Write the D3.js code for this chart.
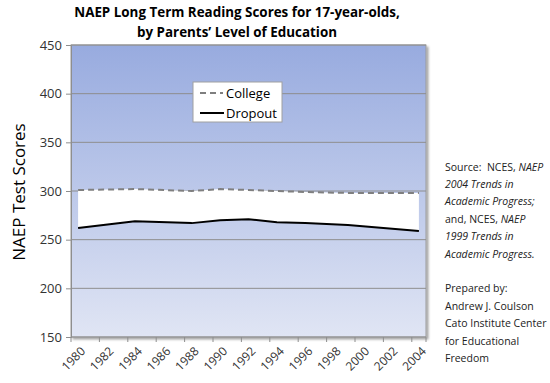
<!DOCTYPE html>
<html><head><meta charset="utf-8">
<script src="https://cdn.jsdelivr.net/npm/d3@7"></script>
<style>body{margin:0;background:#fff}svg{display:block}text{font-family:"Open Sans","Noto Sans",sans-serif;white-space:pre}</style>
</head><body><svg id="c" width="550" height="383"></svg>
<script>
const categories = d3.range(1980, 2005);
const tickYears = [1980,1982,1984,1986,1988,1990,1992,1994,1996,1998,2000,2002,2004];
const dataYears = [1980,1984,1988,1990,1992,1994,1996,1999,2004];
const college = [301,302,300,302,301,300,299,298,298];
const dropout = [262,269,267,270,271,268,267,265,259];
const yTicks = [150,200,250,300,350,400,450];
const seriesNames = ["College","Dropout"];
const titleLines = ["NAEP Long Term Reading Scores for 17-year-olds,","by Parents\u2019 Level of Education"];

const svg = d3.select("#c");
const L=71,R=426,T=45,B=337;
const x = d3.scaleBand().domain(categories).range([L,R]);
const y = d3.scaleLinear().domain([150,450]).range([B,T]);
const cx = yr => x(yr)+x.bandwidth()/2;

const defs = svg.append("defs");
const g = defs.append("linearGradient").attr("id","bg").attr("x1",0).attr("y1",0).attr("x2",0).attr("y2",1);
g.append("stop").attr("offset","0%").attr("stop-color","#98abdf");
g.append("stop").attr("offset","100%").attr("stop-color","#e0e5f4");
const f = defs.append("filter").attr("id","sh").attr("x","-5%").attr("y","-5%").attr("width","110%").attr("height","110%");
f.append("feDropShadow").attr("dx",2).attr("dy",2).attr("stdDeviation",1.2).attr("flood-color","#000").attr("flood-opacity",0.35);

svg.append("rect").attr("x",L).attr("y",T).attr("width",R-L).attr("height",B-T)
  .attr("fill","url(#bg)").attr("stroke","#9a9a9a").attr("stroke-width",1).attr("filter","url(#sh)");

// gridlines
svg.append("g").selectAll("line").data(yTicks.filter(v=>v>150)).join("line")
  .attr("x1",L).attr("x2",R).attr("y1",d=>y(d)).attr("y2",d=>y(d))
  .attr("stroke","#8e8e8e").attr("stroke-width",1);

// y axis
const ya = svg.append("g").attr("transform",`translate(${L},0)`)
  .call(d3.axisLeft(y).tickValues(yTicks).tickSize(5).tickPadding(4));
ya.select(".domain").attr("stroke","#8e8e8e");
ya.selectAll(".tick line").attr("stroke","#8e8e8e");
ya.selectAll("text").attr("font-size",13).attr("fill","#333");

// x axis
const xa = svg.append("g").attr("transform",`translate(0,${B})`);
xa.append("line").attr("x1",L).attr("x2",R).attr("stroke","#8e8e8e");
xa.selectAll("line.t").data(tickYears).join("line").attr("class","t")
  .attr("x1",d=>x(d)).attr("x2",d=>x(d)).attr("y1",0).attr("y2",5).attr("stroke","#8e8e8e");
xa.append("line").attr("x1",R).attr("x2",R).attr("y1",0).attr("y2",5).attr("stroke","#8e8e8e");
xa.selectAll("text").data(tickYears).join("text")
  .attr("transform",d=>`translate(${cx(d)+5},12) rotate(-45)`)
  .attr("text-anchor","end").attr("dy","0.35em").attr("font-size",12).attr("fill","#333").text(d=>d);

// white area between lines
const pts = dataYears.map((yr,i)=>({yr,c:college[i],d:dropout[i]}));
svg.append("path").datum(pts)
  .attr("d",d3.area().x(d=>cx(d.yr)).y0(d=>y(d.d)).y1(d=>y(d.c)))
  .attr("fill","#fff");
svg.append("path").datum(pts)
  .attr("d",d3.line().x(d=>cx(d.yr)).y(d=>y(d.c)))
  .attr("fill","none").attr("stroke","#7f7f7f").attr("stroke-width",2).attr("stroke-dasharray","6,4");
svg.append("path").datum(pts)
  .attr("d",d3.line().x(d=>cx(d.yr)).y(d=>y(d.d)))
  .attr("fill","none").attr("stroke","#000").attr("stroke-width",2);

// legend
const lg = svg.append("g").attr("transform","translate(193,82)");
lg.append("rect").attr("width",89).attr("height",40).attr("fill","#fff").attr("stroke","#a0a0a0");
lg.append("line").attr("x1",7).attr("x2",30).attr("y1",11).attr("y2",11).attr("stroke","#7f7f7f").attr("stroke-width",2).attr("stroke-dasharray","6,4");
lg.append("line").attr("x1",7).attr("x2",31).attr("y1",31).attr("y2",31).attr("stroke","#000").attr("stroke-width",2);
lg.selectAll("text").data(seriesNames).join("text").attr("x",33).attr("y",(d,i)=>11+i*20).attr("dy","0.35em")
  .attr("font-size",13).attr("fill","#000").text(d=>d);

// title
svg.append("g").selectAll("text").data(titleLines).join("text")
  .attr("x",237).attr("y",(d,i)=>17+i*20).attr("text-anchor","middle")
  .attr("font-size",13.4).attr("font-weight","bold").attr("fill","#000").text(d=>d);

// y title
svg.append("text").attr("transform","translate(19,192) rotate(-90)").attr("text-anchor","middle")
  .attr("dy","0.35em").attr("font-size",17).attr("fill","#000").text("NAEP Test Scores");

// source note
const note = [
  [["Source:  NCES, ",false],["NAEP",true]],
  [["2004 Trends in",true]],
  [["Academic Progress;",true]],
  [["and, NCES, ",false],["NAEP",true]],
  [["1999 Trends in",true]],
  [["Academic Progress.",true]],
  [],
  [["Prepared by:",false]],
  [["Andrew J. Coulson",false]],
  [["Cato Institute Center",false]],
  [["for Educational",false]],
  [["Freedom",false]]
];
const nt = svg.append("g");
note.forEach((ln,i)=>{
  const t = nt.append("text").attr("x",445).attr("y",167+i*17.4).attr("dy","0.35em").attr("font-size",10.5).attr("fill","#222");
  ln.forEach(([s,it])=>t.append("tspan").attr("font-style",it?"italic":"normal").text(s));
});
</script></body></html>
